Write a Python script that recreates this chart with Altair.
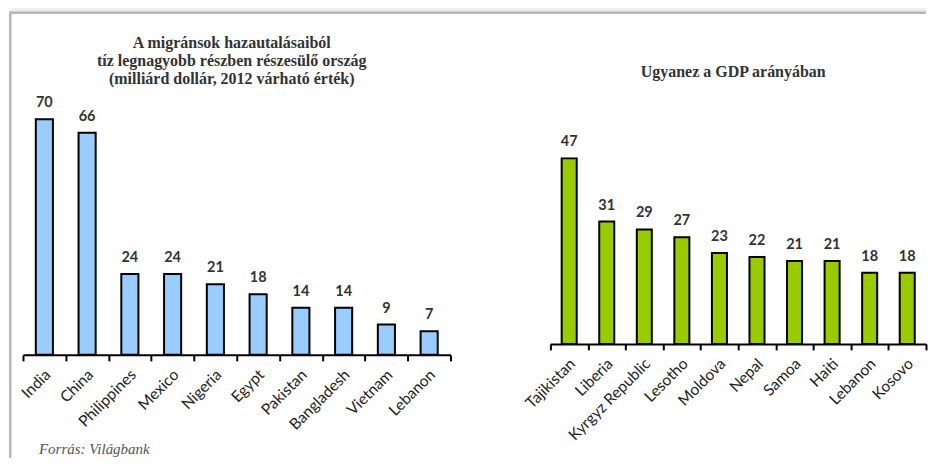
import altair as alt
import pandas as pd

# ---- data ----
left_countries = ["India", "China", "Philippines", "Mexico", "Nigeria", "Egypt",
                  "Pakistan", "Bangladesh", "Vietnam", "Lebanon"]
left_values = [70, 66, 24, 24, 21, 18, 14, 14, 9, 7]

right_countries = ["Tajikistan", "Liberia", "Kyrgyz Republic", "Lesotho", "Moldova",
                   "Nepal", "Samoa", "Haiti", "Lebanon", "Kosovo"]
right_values = [47, 31, 29, 27, 23, 22, 21, 21, 18, 18]

left_title = ["A migránsok hazautalásaiból",
              "tíz legnagyobb részben  részesülő ország",
              "(milliárd dollár, 2012 várható érték)"]
right_title = "Ugyanez a GDP arányában"
source_text = "Forrás: Világbank"

one = pd.DataFrame({"k": [0]})

TITLE_FONT = "Liberation Serif"
LABEL_FONT = "Lato"


def panel(countries, values, color, ymax):
    df = pd.DataFrame({"country": countries, "value": values})
    x = alt.X("country:N", sort=countries,
              scale=alt.Scale(paddingInner=0, paddingOuter=0),
              axis=alt.Axis(title=None, labelAngle=-45, labelAlign="right",
                            labelBaseline="middle", labelFont=LABEL_FONT,
                            labelFontSize=15.5, labelColor="#222", labelPadding=11,
                            labelOffset=3,
                            domainColor="black", domainWidth=2,
                            tickColor="black", tickWidth=2, tickSize=6,
                            tickBand="extent"))
    y = alt.Y("value:Q", scale=alt.Scale(domain=[0, ymax]), axis=None)
    base = alt.Chart(df).encode(x=x, y=y)
    bars = base.mark_bar(width=alt.RelativeBandSize(0.4), fill=color,
                         stroke="black", strokeWidth=2)
    labels = base.mark_text(baseline="bottom", dy=-9, font=LABEL_FONT, fontSize=14.5,
                            fontWeight="bold", color="#333").encode(text="value:Q")
    return bars, labels


lb, ll = panel(left_countries, left_values, "#99CCFF", 75.4)
rb, rl = panel(right_countries, right_values, "#99CC00", 61.5)

# frame (drawn in the left panel's coordinates; panel origin at page (22,101))
frame_shadow = alt.Chart(one).mark_rule(color="#ececec", strokeWidth=4).encode(
    x=alt.value(-12.75), x2=alt.value(904), y=alt.value(-91))
frame_top = alt.Chart(one).mark_rule(color="#b5b5b5", strokeWidth=2.5).encode(
    x=alt.value(-12.75), x2=alt.value(904), y=alt.value(-88.5))
frame_left = alt.Chart(one).mark_rule(color="#b5b5b5", strokeWidth=2.5).encode(
    x=alt.value(-12.75), y=alt.value(-89.75), y2=alt.value(357))

ltitle = alt.Chart(one).mark_text(font=TITLE_FONT, fontSize=16, fontWeight="bold",
                                  color="#333", lineHeight=18, baseline="middle",
                                  align="center").encode(
    x=alt.value(209), y=alt.value(-58), text=alt.value(left_title))

src = alt.Chart(one).mark_text(font=TITLE_FONT, fontSize=15, fontStyle="italic",
                               color="#555", align="left", baseline="alphabetic").encode(
    x=alt.value(16), y=alt.value(353), text=alt.value(source_text))

rtitle = alt.Chart(one).mark_text(font=TITLE_FONT, fontSize=16, fontWeight="bold",
                                  color="#333", baseline="middle", align="center").encode(
    x=alt.value(183), y=alt.value(-29), text=alt.value(right_title))

left = alt.layer(frame_shadow, frame_top, frame_left, lb, ll, ltitle, src).properties(
    width=428, height=254)
right = alt.layer(rb, rl, rtitle).properties(width=376, height=243)

chart = alt.hconcat(left, right, spacing=100, bounds="flush",
                    padding={"left": 0, "top": 0, "right": 0, "bottom": 0}
                    ).configure_view(stroke=None)

chart.save("out.html", embed_options={"renderer": "svg", "actions": False})
